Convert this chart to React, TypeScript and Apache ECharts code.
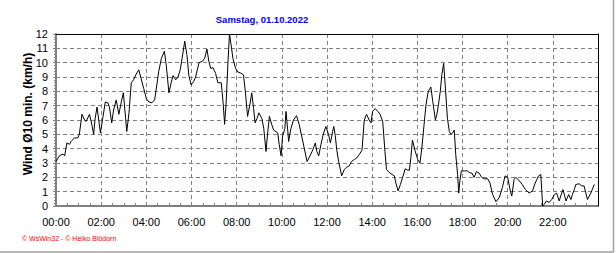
import React, { useEffect, useRef } from "react";
import * as echarts from "echarts";

const titleText = "Samstag, 01.10.2022";
const yAxisTitle = "Wind Ø10 min. (km/h)";
const creditText = "© WsWin32 - © Heiko Blödorn";

// minutes since midnight
const times = [
  0, 9, 16, 20, 23, 29, 36, 40, 49, 58, 62, 69, 76, 80, 89, 95, 100, 104, 109, 114,
  118, 124, 131, 138, 142, 148, 153, 160, 167, 173, 179, 185, 188, 194, 200, 206, 213, 220, 226, 233,
  240, 247, 255, 262, 266, 273, 280, 288, 293, 300, 306, 311, 318, 324, 330, 335, 342, 348, 353, 359,
  366, 371, 380, 389, 395, 401, 406, 411, 417, 424, 430, 439, 444, 448, 452, 457, 461, 466, 470, 477,
  483, 489, 498, 503, 509, 516, 520, 525, 529, 534, 539, 547, 552, 558, 562, 567, 573, 578, 589, 593,
  598, 602, 608, 611, 616, 618, 624, 631, 639, 646, 655, 667, 675, 682, 689, 693, 698, 704, 710, 717,
  724, 729, 735, 738, 742, 746, 751, 759, 766, 772, 779, 785, 793, 799, 806, 813, 819, 825, 832, 837,
  841, 848, 855, 861, 868, 874, 878, 887, 899, 903, 909, 915, 921, 928, 934, 939, 943, 947, 954, 961,
  967, 972, 978, 983, 989, 996, 1001, 1008, 1012, 1016, 1021, 1025, 1030, 1034, 1040, 1045, 1049, 1054, 1058, 1062,
  1067, 1070, 1073, 1077, 1085, 1093, 1100, 1105, 1111, 1117, 1124, 1131, 1138, 1147, 1153, 1160, 1169, 1178, 1186, 1193,
  1200, 1207, 1211, 1217, 1222, 1231, 1239, 1247, 1257, 1266, 1273, 1282, 1288, 1293, 1297, 1303, 1310, 1317, 1324, 1330,
  1337, 1341, 1347, 1355, 1362, 1368, 1372, 1377, 1381, 1390, 1397, 1403, 1412, 1421, 1430,
];

// wind speed km/h
const windValues = [
  3.1, 3.5, 3.6, 3.6, 3.5, 4.4, 4.3, 4.5, 4.75, 4.75, 5.0, 6.4, 6.0, 5.9, 6.4, 5.7, 5.0, 6.1, 6.9, 5.9,
  5.1, 6.1, 7.25, 7.2, 6.9, 5.8, 6.7, 7.4, 6.4, 7.2, 7.9, 6.1, 5.2, 6.5, 8.6, 8.8, 9.2, 9.5, 8.9, 8.2,
  7.5, 7.25, 7.2, 7.4, 8.1, 9.4, 10.3, 10.8, 9.8, 7.9, 8.6, 9.1, 8.8, 9.0, 9.5, 10.3, 11.5, 10.5, 9.1, 8.45,
  8.7, 9.0, 10.0, 10.1, 10.3, 10.95, 10.1, 9.6, 9.65, 9.25, 8.6, 8.6, 7.2, 5.7, 7.2, 10.1, 12.0, 11.1, 10.3, 9.6,
  9.35, 9.3, 9.15, 8.0, 6.25, 7.2, 7.9, 6.8, 5.8, 6.1, 6.5, 6.1, 5.4, 3.8, 5.0, 6.25, 5.7, 5.3, 5.1, 4.3,
  3.5, 4.9, 5.4, 6.6, 5.2, 4.5, 5.4, 6.0, 6.3, 5.7, 4.6, 3.1, 3.5, 3.9, 4.4, 3.8, 3.5, 4.3, 5.0, 5.55,
  5.0, 4.4, 5.2, 5.55, 4.9, 3.9, 3.1, 2.1, 2.55, 2.7, 2.8, 3.1, 3.25, 3.35, 3.6, 3.9, 6.0, 6.4, 6.0, 5.8,
  6.6, 6.8, 6.6, 6.4, 5.9, 3.8, 2.55, 2.3, 2.1, 1.6, 1.05, 1.5, 2.0, 2.6, 2.5, 2.5, 3.4, 4.6, 3.85, 3.25,
  3.0, 4.05, 5.7, 7.05, 8.0, 8.3, 7.3, 6.0, 6.4, 7.05, 8.0, 9.15, 9.95, 8.45, 6.1, 5.2, 5.0, 5.1, 5.3, 3.6,
  2.2, 0.9, 1.75, 2.45, 2.45, 2.45, 2.3, 2.3, 2.0, 2.4, 2.3, 2.0, 1.9, 1.9, 1.6, 0.8, 0.3, 0.6, 1.3, 2.1,
  2.0, 1.05, 0.7, 1.85, 2.0, 1.75, 1.5, 1.15, 0.9, 1.05, 1.6, 2.1, 2.2, 0.0, 0.1, 0.35, 0.25, 0.45, 0.8, 0.9,
  0.35, 0.7, 1.15, 0.35, 0.8, 0.45, 0.8, 1.15, 1.5, 1.55, 1.4, 1.4, 0.45, 0.9, 1.5,
];

const xMin = 0;
const xMax = 1440;
const xInterval = 120;
const yMin = 0;
const yMax = 12;

const FONT = "'Liberation Sans', Arial, sans-serif";

function fmtTime(v: number): string {
  if (v >= 1440) return "";
  const h = Math.floor(v / 60);
  const m = v % 60;
  return String(h).padStart(2, "0") + ":" + String(m).padStart(2, "0");
}

export default function App() {
  const ref = useRef<HTMLDivElement>(null);

  useEffect(() => {
    if (!ref.current) return;
    const chart = echarts.init(ref.current, undefined, { renderer: "svg" });
    const data = times.map((t, i) => [t, windValues[i]]);
    const grey = "#808080";

    chart.setOption({
      animation: false,
      backgroundColor: "#ffffff",
      grid: {
        left: 56,
        right: 18,
        top: 34,
        bottom: 47,
        show: false,
      },
      xAxis: [
        {
          type: "value",
          min: xMin,
          max: xMax,
          interval: xInterval,
          axisLine: { show: true, lineStyle: { color: grey, width: 2 } },
          axisTick: { show: true, inside: true, length: 3, lineStyle: { color: grey } },
          minorTick: { show: true, splitNumber: 4, length: 3, lineStyle: { color: grey } },
          axisLabel: {
            formatter: (v: number) => fmtTime(v),
            color: "#000",
            fontSize: 11,
            fontFamily: FONT,
            margin: 10,
          },
          splitLine: { show: true, lineStyle: { color: grey, type: [4, 3], width: 1 } },
        },
        {
          type: "value",
          position: "top",
          min: xMin,
          max: xMax,
          z: 10,
          axisLine: { show: true, onZero: false, lineStyle: { color: "#000", width: 1 } },
          axisTick: { show: false },
          axisLabel: { show: false },
          splitLine: { show: false },
        },
      ],
      yAxis: [
        {
          type: "value",
          min: yMin,
          max: yMax,
          interval: 1,
          axisLine: { show: true, lineStyle: { color: grey, width: 2 } },
          axisTick: { show: true, inside: false, length: 3, lineStyle: { color: grey } },
          minorTick: { show: true, splitNumber: 5, length: 2, lineStyle: { color: grey } },
          axisLabel: {
            color: "#000",
            fontSize: 11,
            fontFamily: FONT,
            margin: 8,
          },
          splitLine: { show: true, lineStyle: { color: grey, type: [4, 3], width: 1 } },
        },
        {
          type: "value",
          position: "right",
          min: yMin,
          max: yMax,
          z: 10,
          axisLine: { show: true, onZero: false, lineStyle: { color: "#000", width: 1 } },
          axisTick: { show: false },
          axisLabel: { show: false },
          splitLine: { show: false },
        },
      ],
      series: [
        {
          type: "line",
          data,
          xAxisIndex: 0,
          yAxisIndex: 0,
          showSymbol: false,
          symbol: "none",
          clip: false,
          z: 20,
          lineStyle: { color: "#000", width: 1 },
        },
      ],
      graphic: [
        {
          type: "text",
          x: 262,
          y: 19,
          style: {
            text: titleText,
            fill: "#0000ff",
            font: "bold 9.5px " + FONT,
            textAlign: "center",
            textVerticalAlign: "middle",
          },
        },
        {
          type: "text",
          x: 28,
          y: 114,
          rotation: Math.PI / 2,
          style: {
            text: yAxisTitle,
            fill: "#000",
            font: "bold 12px " + FONT,
            textAlign: "center",
            textVerticalAlign: "middle",
          },
        },
        {
          type: "text",
          x: 22,
          y: 238,
          style: {
            text: creditText,
            fill: "#ff0000",
            font: "7px " + FONT,
            textAlign: "left",
            textVerticalAlign: "middle",
          },
        },
        {
          type: "line",
          shape: { x1: 0, y1: 252, x2: 613.5, y2: 252 },
          style: { stroke: "#a0a0a0", lineWidth: 1.5 },
        },
        {
          type: "line",
          shape: { x1: 613.5, y1: 0, x2: 613.5, y2: 252 },
          style: { stroke: "#a0a0a0", lineWidth: 1.5 },
        },
      ],
    });

    return () => {
      chart.dispose();
    };
  }, []);

  return (
    <div
      ref={ref}
      style={{ position: "fixed", left: 0, top: 0, width: 616, height: 253, background: "#fff" }}
    />
  );
}
